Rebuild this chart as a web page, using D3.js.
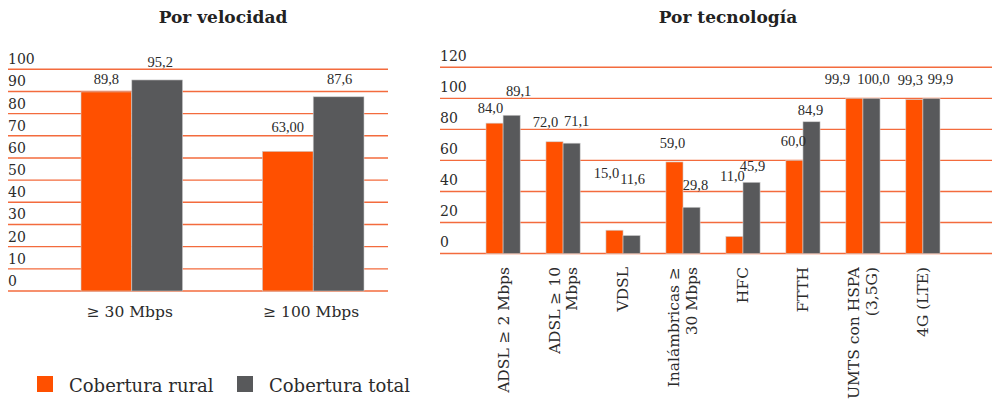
<!DOCTYPE html>
<html>
<head>
<meta charset="utf-8">
<script src="https://cdn.jsdelivr.net/npm/d3@7"></script>
<style>
  body { margin: 0; background: #fff; }
  svg { display: block; }
</style>
</head>
<body>
<svg id="chart" width="992" height="412"></svg>
<script>
// --- data ---
const series = ["Cobertura rural", "Cobertura total"];

// Por velocidad
const velCategories = ["≥ 30 Mbps", "≥ 100 Mbps"];
const velRural = [89.8, 63.0];
const velTotal = [95.2, 87.6];
const velRuralText = ["89,8", "63,00"];
const velTotalText = ["95,2", "87,6"];
const velTicks = [0, 10, 20, 30, 40, 50, 60, 70, 80, 90, 100];

// Por tecnología
const techCategories = [
  ["ADSL ≥ 2 Mbps"],
  ["ADSL ≥ 10", "Mbps"],
  ["VDSL"],
  ["Inalámbricas ≥", "30 Mbps"],
  ["HFC"],
  ["FTTH"],
  ["UMTS con HSPA", "(3,5G)"],
  ["4G (LTE)"]
];
const techRural = [84.0, 72.0, 15.0, 59.0, 11.0, 60.0, 99.9, 99.3];
const techTotal = [89.1, 71.1, 11.6, 29.8, 45.9, 84.9, 100.0, 99.9];
const techTicks = [0, 20, 40, 60, 80, 100, 120];

// label nudges (px) as placed in the original artwork: [dx, lift above bar top]
const velRuralNudge = [[0, 8], [0, 19]];
const velTotalNudge = [[3, 13], [1, 13]];
const techRuralNudge = [[-4, 10], [-9, 15], [-8, 52], [-2, 14], [-2, 55], [-1, 14], [-17, 14], [-4, 14]];
const techTotalNudge = [[7, 19], [5, 17], [1, 52], [4, 17], [1, 11], [-1, 7], [2, 14], [9, 14]];

const ORANGE = "#ff5000";
const GRAY = "#58595b";
const GRID = "#f36b3d";
const TEXT = "#2b2b2b";
const SERIF = "'DejaVu Serif', serif";
const VALFONT = "'Liberation Serif', serif";

const svg = d3.select("#chart");

function drawPanel(opt) {
  const g = svg.append("g");
  const y = d3.scaleLinear().domain(opt.domain).range(opt.yRange);
  const x = d3.scaleBand()
    .domain(d3.range(opt.rural.length))
    .range(opt.xRange)
    .paddingInner(opt.padInner)
    .paddingOuter(0);
  const xs = d3.scaleBand().domain([0, 1]).range([0, x.bandwidth()]);

  // title
  g.append("text")
    .attr("x", opt.titleX).attr("y", 23)
    .attr("text-anchor", "middle")
    .attr("font-family", SERIF).attr("font-weight", "bold")
    .attr("font-size", 17).attr("fill", "#222")
    .text(opt.title);

  // grid lines + tick labels
  g.append("g").selectAll("line")
    .data(opt.ticks)
    .enter().append("line")
    .attr("x1", opt.gridX[0]).attr("x2", opt.gridX[1])
    .attr("y1", d => y(d)).attr("y2", d => y(d))
    .attr("stroke", GRID).attr("stroke-width", 1.4);

  g.append("g").selectAll("text")
    .data(opt.ticks)
    .enter().append("text")
    .attr("x", opt.gridX[0])
    .attr("y", d => y(d) - opt.tickLift)
    .attr("font-family", SERIF).attr("font-size", 14)
    .attr("fill", TEXT)
    .text(d => d);

  // bars
  const groups = g.append("g").selectAll("g")
    .data(opt.rural.map((r, i) => ({ i, vals: [r, opt.total[i]] })))
    .enter().append("g")
    .attr("transform", d => `translate(${x(d.i)},0)`);

  groups.selectAll("rect")
    .data(d => d.vals.map((v, k) => ({ v, k })))
    .enter().append("rect")
    .attr("x", d => xs(d.k))
    .attr("width", xs.bandwidth())
    .attr("y", d => y(d.v))
    .attr("height", d => y(0) - y(d.v))
    .attr("fill", d => d.k === 0 ? ORANGE : GRAY)
    .attr("stroke", "#cfcfcf").attr("stroke-width", 0.6);

  // value labels
  const labelData = [];
  opt.rural.forEach((v, i) => {
    labelData.push({ i, k: 0, v, t: opt.ruralText[i], n: opt.ruralNudge[i] });
    labelData.push({ i, k: 1, v: opt.total[i], t: opt.totalText[i], n: opt.totalNudge[i] });
  });
  g.append("g").selectAll("text")
    .data(labelData)
    .enter().append("text")
    .attr("x", d => x(d.i) + xs(d.k) + xs.bandwidth() / 2 + d.n[0])
    .attr("y", d => y(d.v) - d.n[1])
    .attr("text-anchor", "middle")
    .attr("font-family", VALFONT).attr("font-size", 14.5)
    .attr("fill", TEXT)
    .text(d => d.t);

  return { g, x, y };
}

// --- left panel ---
const left = drawPanel({
  title: "Por velocidad", titleX: 223,
  domain: [0, 100], yRange: [291, 69.3],
  xRange: [81, 364], padInner: 0.44,
  gridX: [8, 388], ticks: velTicks, tickLift: 5,
  rural: velRural, total: velTotal,
  ruralText: velRuralText, totalText: velTotalText,
  ruralNudge: velRuralNudge, totalNudge: velTotalNudge
});

left.g.append("g").selectAll("text")
  .data(velCategories)
  .enter().append("text")
  .attr("x", (d, i) => left.x(i) + left.x.bandwidth() / 2 - 2)
  .attr("y", 317)
  .attr("text-anchor", "middle")
  .attr("font-family", SERIF).attr("font-size", 15.5)
  .attr("fill", TEXT)
  .text(d => d);

// --- right panel ---
const fmt = v => d3.format(".1f")(v).replace(".", ",");
const right = drawPanel({
  title: "Por tecnología", titleX: 728,
  domain: [0, 120], yRange: [253.5, 67.3],
  xRange: [486, 940], padInner: 0.43,
  gridX: [440, 992], ticks: techTicks, tickLift: 6.5,
  rural: techRural, total: techTotal,
  ruralText: techRural.map(fmt), totalText: techTotal.map(fmt),
  ruralNudge: techRuralNudge, totalNudge: techTotalNudge
});

const catG = right.g.append("g").selectAll("g")
  .data(techCategories)
  .enter().append("g")
  .attr("transform", (d, i) =>
    `translate(${right.x(i) + right.x.bandwidth() / 2},267) rotate(-90)`);

catG.selectAll("text")
  .data(d => d.map((line, j) => ({ line, j, n: d.length })))
  .enter().append("text")
  .attr("x", 0)
  .attr("y", d => (d.j - (d.n - 1) / 2) * 18)
  .attr("dy", "0.35em")
  .attr("text-anchor", "end")
  .attr("font-family", SERIF).attr("font-size", 15.5)
  .attr("fill", TEXT)
  .text(d => d.line);

// --- legend ---
const legend = svg.append("g").selectAll("g")
  .data(series)
  .enter().append("g")
  .attr("transform", (d, i) => `translate(${37 + i * 200},376)`);
legend.append("rect")
  .attr("width", 16).attr("height", 16)
  .attr("fill", (d, i) => i === 0 ? ORANGE : GRAY);
legend.append("text")
  .attr("x", 32).attr("y", 16)
  .attr("font-family", SERIF).attr("font-size", 18)
  .attr("fill", TEXT)
  .text(d => d);
</script>
</body>
</html>
